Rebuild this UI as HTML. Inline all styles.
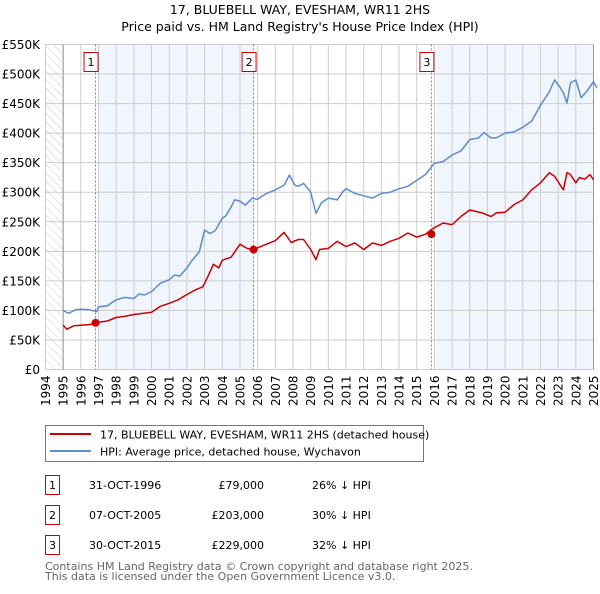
<!DOCTYPE html>
<html><head><meta charset="utf-8"><style>
body{margin:0;background:#fff;font-family:"DejaVu Sans","Liberation Sans",sans-serif;}
svg text{font-family:"DejaVu Sans","Liberation Sans",sans-serif;}
</style></head><body>
<svg id="c" width="600" height="590" xmlns="http://www.w3.org/2000/svg">
<defs><pattern id="hatch" width="6" height="6" patternUnits="userSpaceOnUse" patternTransform="rotate(-45)"><line x1="0" y1="0" x2="0" y2="6" stroke="#ccc" stroke-width="1"/></pattern></defs>
<text x="300" y="14" text-anchor="middle" font-size="12.5">17, BLUEBELL WAY, EVESHAM, WR11 2HS</text>
<text x="300" y="31" text-anchor="middle" font-size="12.5">Price paid vs. HM Land Registry's House Price Index (HPI)</text>
<g id="plot"></g>
<g>
<rect x="45.5" y="425.5" width="378" height="36" fill="#fff" stroke="#777"/>
<line x1="50" y1="434" x2="91" y2="434" stroke="#cc0000" stroke-width="2"/>
<text x="100" y="438.5" font-size="11">17, BLUEBELL WAY, EVESHAM, WR11 2HS (detached house)</text>
<line x1="50" y1="451" x2="91" y2="451" stroke="#5b8bd0" stroke-width="2"/>
<text x="100" y="455.5" font-size="11">HPI: Average price, detached house, Wychavon</text>
</g>
<g id="table" font-size="11"></g>
<text x="45" y="570" font-size="11" fill="#666">Contains HM Land Registry data © Crown copyright and database right 2025.</text>
<text x="45" y="580" font-size="11" fill="#666">This data is licensed under the Open Government Licence v3.0.</text>
</svg>
<script>
const NS="http://www.w3.org/2000/svg";
const hpiYears=[1995.0,1995.3,1995.7,1996.0,1996.5,1996.9,1997.0,1997.5,1998.0,1998.5,1999.0,1999.3,1999.6,2000.0,2000.5,2001.0,2001.3,2001.6,2002.0,2002.3,2002.7,2003.0,2003.3,2003.6,2004.0,2004.2,2004.5,2004.7,2005.0,2005.3,2005.7,2006.0,2006.5,2007.0,2007.5,2007.8,2008.1,2008.3,2008.6,2009.0,2009.3,2009.6,2010.0,2010.5,2010.8,2011.0,2011.5,2012.0,2012.5,2013.0,2013.5,2014.0,2014.5,2015.0,2015.5,2015.8,2016.0,2016.5,2017.0,2017.5,2018.0,2018.5,2018.8,2019.2,2019.5,2020.0,2020.5,2021.0,2021.5,2022.0,2022.5,2022.8,2023.1,2023.3,2023.5,2023.7,2024.0,2024.3,2024.6,2025.0,2025.2];
const hpiValues=[100,95,101,102,101,98,106,108,118,122,120,128,126,132,146,152,160,158,172,185,199,236,230,235,256,260,275,287,285,278,290,288,298,304,312,329,312,310,315,300,264,282,290,287,300,306,298,294,290,298,300,306,310,320,330,342,349,352,363,370,389,392,401,392,392,400,402,410,420,447,470,490,478,468,451,485,490,460,470,487,476];
const ppYears=[1995.0,1995.2,1995.6,1996.0,1996.5,1996.83,1997.0,1997.5,1998.0,1998.5,1999.0,1999.5,2000.0,2000.5,2001.0,2001.5,2002.0,2002.5,2002.9,2003.2,2003.5,2003.8,2004.0,2004.5,2005.0,2005.4,2005.77,2006.0,2006.5,2007.0,2007.5,2007.9,2008.3,2008.6,2009.0,2009.3,2009.5,2010.0,2010.5,2011.0,2011.5,2012.0,2012.5,2013.0,2013.5,2014.0,2014.5,2015.0,2015.5,2015.83,2016.0,2016.5,2017.0,2017.5,2018.0,2018.7,2019.2,2019.5,2020.0,2020.5,2021.0,2021.5,2022.0,2022.5,2022.8,2023.3,2023.5,2023.7,2024.0,2024.2,2024.5,2024.8,2025.0,2025.2];
const ppValues=[75,68,74,75,76,79,80,82,88,90,93,95,97,107,112,118,127,135,140,158,178,172,185,190,212,205,203,206,212,218,232,215,220,220,203,186,203,205,217,208,214,203,214,210,217,222,231,224,229,237,240,248,245,259,270,265,259,265,266,279,287,304,316,333,327,304,333,330,316,325,322,330,321];
const yTicks=[0,50,100,150,200,250,300,350,400,450,500,550];
const yTickLabels=["£0","£50K","£100K","£150K","£200K","£250K","£300K","£350K","£400K","£450K","£500K","£550K"];
const xTicks=[1994,1995,1996,1997,1998,1999,2000,2001,2002,2003,2004,2005,2006,2007,2008,2009,2010,2011,2012,2013,2014,2015,2016,2017,2018,2019,2020,2021,2022,2023,2024,2025];
const saleLabels=["1","2","3"];
const saleYears=[1996.83,2005.77,2015.83];
const saleValues=[79,203,229];
const saleDates=["31-OCT-1996","07-OCT-2005","30-OCT-2015"];
const salePrices=["£79,000","£203,000","£229,000"];
const salePcts=["26% ↓ HPI","30% ↓ HPI","32% ↓ HPI"];

const X0=45.5,X1=593.5,Y0=369.5,Y1=44.5;
const x=t=>X0+(t-1994)*(X1-X0)/31;
const y=v=>Y0-v*(Y0-Y1)/550;
const g=document.getElementById('plot');
function mk(tag,attrs,parent){const e=document.createElementNS(NS,tag);for(const k in attrs)e.setAttribute(k,attrs[k]);(parent||g).appendChild(e);return e;}

let e=mk('rect',{x:X0,y:Y1,width:X1-X0,height:Y0-Y1,fill:'#fff'});


e=mk('rect',{x:X0,y:Y1,width:x(1995)-X0,height:Y0-Y1,fill:'url(#hatch)'});


e=mk('rect',{x:x(1996.95),y:Y1,width:x(saleYears[1])-x(1996.95),height:Y0-Y1,fill:'#eef3fc',opacity:0.8});


e=mk('rect',{x:x(2016.1),y:Y1,width:X1-x(2016.1),height:Y0-Y1,fill:'#eef3fc',opacity:0.8});



yTicks.forEach((v,i)=>{
  const l=mk('line',{x1:X0,x2:X1,y1:y(v),y2:y(v),stroke:'#ccc','stroke-width':1});
  
  
  const t=mk('text',{x:40,y:y(v)+4.5,'text-anchor':'end','font-size':12});
  t.textContent=yTickLabels[i];
  
  
});
xTicks.forEach(yr=>{
  const l=mk('line',{x1:x(yr),x2:x(yr),y1:Y1,y2:Y0,stroke:'#ccc','stroke-width':1});
  
  
  const t=mk('text',{transform:`translate(${x(yr)+4.5},${Y0+6}) rotate(-90)`,'text-anchor':'end','font-size':12});
  t.textContent=yr;
  
  
});
e=mk('line',{x1:x(1995),x2:x(1995),y1:Y1,y2:Y0,stroke:'#999'});


e=mk('line',{x1:X1,x2:X1,y1:Y1,y2:Y0,stroke:'#999'});



saleYears.forEach((t,i)=>{
  const l=mk('line',{x1:x(t),x2:x(t),y1:Y1,y2:Y0,stroke:'#e55','stroke-width':1,'stroke-dasharray':'2,2'});
  
  
});

function path(xs,vs,color,name){
  const d=xs.map((t,i)=>(i?'L':'M')+x(t).toFixed(1)+','+y(vs[i]).toFixed(1)).join('');
  const p=mk('path',{d:d,fill:'none',stroke:color,'stroke-width':1.5,'stroke-linejoin':'round'});
  
  
}
path(hpiYears,hpiValues,'#5b8bd0','hpi-line');
path(ppYears,ppValues,'#cc0000','price-paid-line');

saleYears.forEach((t,i)=>{
  const c=mk('circle',{cx:x(t),cy:y(saleValues[i]),r:4,fill:'#cc0000'});
  
  
  const b=mk('rect',{x:x(t)-11.5,y:52.5,width:14,height:19,fill:'#fff',stroke:'#cc0000'});
  
  
  const tx=mk('text',{x:x(t)-4.5,y:66,'text-anchor':'middle','font-size':11});
  tx.textContent=saleLabels[i];
  
  
});

const tb=document.getElementById('table');
saleLabels.forEach((s,i)=>{
  const yy=475+i*30;
  const b=mk('rect',{x:45.5,y:yy+0.5,width:14,height:19,fill:'#fff',stroke:'#cc0000'},tb);
  
  
  const cols=[[52.5,s,'middle'],[89,saleDates[i],'start'],[264,salePrices[i],'end'],[312,salePcts[i],'start']];
  cols.forEach(([cx,txt,anc],j)=>{
    const t=mk('text',{x:cx,y:yy+14,'text-anchor':anc,'font-size':11},tb);
    t.textContent=txt;
    
    
  });
});
</script>
</body></html>
